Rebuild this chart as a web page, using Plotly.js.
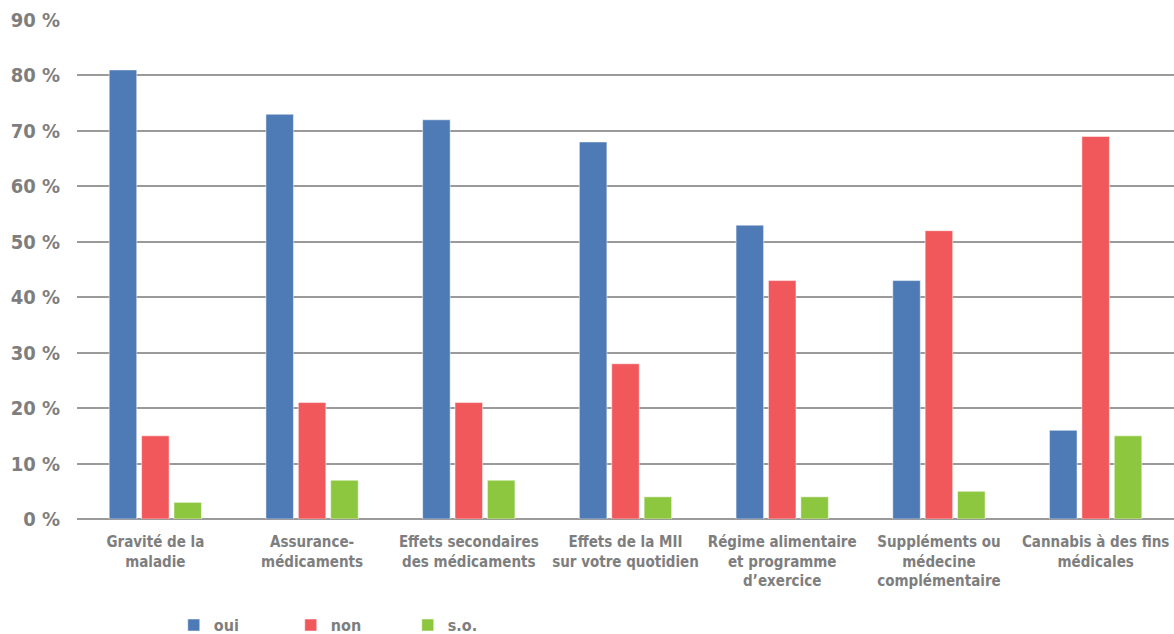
<!DOCTYPE html>
<html><head><meta charset="utf-8">
<script src="https://cdn.plot.ly/plotly-3.0.1.min.js"></script>
<style>body{margin:0;background:#fff}#c{width:1174px;height:634px}</style>
</head><body><div id="c"></div>
<script>
const categories = [
  "Gravité de la<br>maladie",
  "Assurance-<br>médicaments",
  "Effets secondaires<br>des médicaments",
  "Effets de la MII<br>sur votre quotidien",
  "Régime alimentaire<br>et programme<br>d’exercice",
  "Suppléments ou<br>médecine<br>complémentaire",
  "Cannabis à des fins<br>médicales"
];
const oui = [81, 73, 72, 68, 53, 43, 16];
const non = [15, 21, 21, 28, 43, 52, 69];
const so  = [3, 7, 7, 4, 4, 5, 15];
const seriesNames = ["oui", "non", "s.o."];
const tickVals = [0,10,20,30,40,50,60,70,80,90];
const tickText = ["0 %","10 %","20 %","30 %","40 %","50 %","60 %","70 %","80 %","90 %"];

const FONT = "'DejaVu Sans Condensed', 'Liberation Sans Narrow', sans-serif";
const GREY = "#7e7e7e";
const mk = (y, name, color) => ({
  type: "bar", x: categories, y: y, name: name,
  marker: {color: color, line: {color: "rgba(255,255,255,0.5)", width: 1}},
  hoverinfo: "y+name"
});
const data = [
  mk(oui, seriesNames[0], "#4e7ab5"),
  mk(non, seriesNames[1], "#f0585b"),
  mk(so, seriesNames[2], "#8dc63f")
];
const layout = {
  width: 1174, height: 634,
  margin: {l: 77, r: 0, t: 20, b: 115},
  paper_bgcolor: "#fff", plot_bgcolor: "#fff",
  barmode: "group", bargap: 0.38, bargroupgap: 0.15,
  font: {family: FONT, color: GREY, size: 16},
  xaxis: {
    showgrid: false, showline: false, zeroline: false, ticks: "",
    tickangle: 0, ticklabelstandoff: 12,
    tickfont: {family: FONT, size: 15, color: GREY, weight: "bold"},
    automargin: false
  },
  yaxis: {
    range: [0, 90], tickmode: "array", tickvals: tickVals, ticktext: tickText,
    showgrid: true, gridcolor: "#9a9a9a", gridwidth: 2,
    zeroline: true, zerolinecolor: "#9a9a9a", zerolinewidth: 2,
    showline: false, ticks: "", ticklabelstandoff: 16,
    tickfont: {family: FONT, size: 20, color: GREY, weight: "bold"},
    automargin: false
  },
  legend: {
    orientation: "h", xref: "container", yref: "container",
    x: 0.148, xanchor: "left", y: 0.014, yanchor: "middle",
    font: {family: FONT, size: 16, color: GREY, weight: "bold"},
    entrywidth: 72, entrywidthmode: "pixels", itemwidth: 30,
    bgcolor: "rgba(0,0,0,0)"
  },
  showlegend: true
};
Plotly.newPlot("c", data, layout, {displayModeBar: false, staticPlot: true});
</script></body></html>
